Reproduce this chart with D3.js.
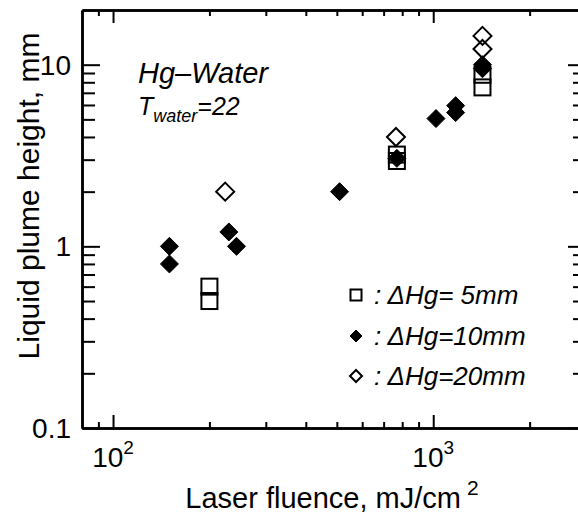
<!DOCTYPE html>
<html>
<head>
<meta charset="utf-8">
<script src="https://cdn.jsdelivr.net/npm/d3@7"></script>
<style>
  body { margin: 0; background: #fff; }
  text { font-family: "Liberation Sans", Arial, sans-serif; fill: #000; }
  .axis path, .axis line { stroke: #000; }
</style>
</head>
<body>
<div id="chart"></div>
<script>
// data (fluence mJ/cm2, plume height mm)
var hg5X = [200, 200, 770, 770, 1425, 1425];
var hg5Y = [0.6, 0.5, 3.2, 2.95, 8.8, 7.5];
var hg10X = [150, 150, 230, 243, 510, 770, 1020, 1175, 1175, 1425, 1425];
var hg10Y = [1.0, 0.8, 1.2, 1.0, 2.0, 3.05, 5.05, 5.95, 5.45, 10.0, 9.5];
var hg20X = [224, 765, 1425, 1425];
var hg20Y = [2.0, 4.0, 14.4, 12.2];

var xMajor = [100, 1000];
var xMinor = [90, 200, 300, 400, 500, 600, 700, 800, 900, 2000];
var yMajor = [0.1, 1, 10];
var yMinor = [0.2, 0.3, 0.4, 0.5, 0.6, 0.7, 0.8, 0.9, 2, 3, 4, 5, 6, 7, 8, 9];
var xLabels = [{ v: 100, exp: "2" }, { v: 1000, exp: "3" }];
var yLabels = ["0.1", "1", "10"];

var legendRows = [
    { type: "square", label: ": \u0394Hg= 5mm" },
    { type: "filled", label: ": \u0394Hg=10mm" },
    { type: "open", label: ": \u0394Hg=20mm" },
];

var width = 578,
    height = 516,
    plot = { left: 82, right: 586, top: 10, bottom: 428 };

var svg = d3
    .select("#chart")
    .append("svg")
    .attr("width", width)
    .attr("height", height);

var x = d3.scaleLog().domain([80, 3000]).range([plot.left, plot.right]);
var y = d3.scaleLog().domain([0.1, 20]).range([plot.bottom, plot.top]);

function drawAxis(axisFn, scale, values, size, transform) {
    var g = svg
        .append("g")
        .attr("class", "axis")
        .attr("transform", transform)
        .call(axisFn(scale).tickValues(values).tickSize(size).tickSizeOuter(0).tickFormat(""));
    g.selectAll("line").attr("stroke-width", 2);
    g.select(".domain").attr("stroke-width", 2.5);
    return g;
}

// x axes (bottom + top), ticks pointing inward
drawAxis(d3.axisTop, x, xMinor, 6, "translate(0," + plot.bottom + ")");
drawAxis(d3.axisTop, x, xMajor, 13, "translate(0," + plot.bottom + ")");
drawAxis(d3.axisBottom, x, xMinor, 6, "translate(0," + plot.top + ")");
drawAxis(d3.axisBottom, x, xMajor, 13, "translate(0," + plot.top + ")");

// y axes (left + right)
drawAxis(d3.axisRight, y, yMinor, 13, "translate(" + plot.left + ",0)");
drawAxis(d3.axisRight, y, yMajor, 18, "translate(" + plot.left + ",0)");
drawAxis(d3.axisLeft, y, yMinor, 13, "translate(" + plot.right + ",0)");
drawAxis(d3.axisLeft, y, yMajor, 18, "translate(" + plot.right + ",0)");

// tick labels
svg.selectAll(".ylab")
    .data(yMajor)
    .enter()
    .append("text")
    .attr("x", plot.left - 11)
    .attr("y", function (d) { return y(d) + 10; })
    .attr("text-anchor", "end")
    .style("font-size", "28px")
    .text(function (d, i) { return yLabels[i]; });

var xl = svg.selectAll(".xlab")
    .data(xLabels)
    .enter()
    .append("text")
    .attr("x", function (d) { return x(d.v); })
    .attr("y", 467)
    .attr("text-anchor", "middle")
    .style("font-size", "28px");
xl.append("tspan").text("10");
xl.append("tspan").attr("dy", -13).style("font-size", "19px").text(function (d) { return d.exp; });

// axis titles
var xt = svg.append("text")
    .attr("x", 332)
    .attr("y", 508)
    .attr("text-anchor", "middle")
    .style("font-size", "29px");
xt.append("tspan").text("Laser fluence, mJ/cm");
xt.append("tspan").attr("dx", 6).attr("dy", -13).style("font-size", "21px").text("2");

svg.append("text")
    .attr("transform", "translate(39,196) rotate(-90)")
    .attr("text-anchor", "middle")
    .style("font-size", "30px")
    .text("Liquid plume height, mm");

// annotation
svg.append("text")
    .attr("x", 138)
    .attr("y", 83)
    .style("font-size", "29px")
    .style("font-style", "italic")
    .text("Hg\u2013Water");

var tw = svg.append("text")
    .attr("x", 138)
    .attr("y", 115)
    .style("font-size", "25px")
    .style("font-style", "italic");
tw.append("tspan").text("T");
tw.append("tspan").attr("dy", 7).style("font-size", "18px").text("water");
tw.append("tspan").attr("dy", -7).text("=22");

// markers
function drawMarker(sel, type, s) {
    if (type === "square") {
        sel.append("rect")
            .attr("x", -s / 2).attr("y", -s / 2)
            .attr("width", s).attr("height", s)
            .attr("fill", "none").attr("stroke", "#000").attr("stroke-width", 2);
    } else {
        var h = s / 2;
        sel.append("path")
            .attr("d", "M0," + (-h) + "L" + h + ",0L0," + h + "L" + (-h) + ",0Z")
            .attr("fill", type === "filled" ? "#000" : "none")
            .attr("stroke", "#000")
            .attr("stroke-width", type === "filled" ? 1 : 2);
    }
}

function drawSeries(xs, ys, type, s) {
    svg.append("g")
        .selectAll("g")
        .data(xs)
        .enter()
        .append("g")
        .attr("transform", function (d, i) { return "translate(" + x(d) + "," + y(ys[i]) + ")"; })
        .each(function () { drawMarker(d3.select(this), type, s); });
}

drawSeries(hg5X, hg5Y, "square", 16);
drawSeries(hg10X, hg10Y, "filled", 18);
drawSeries(hg20X, hg20Y, "open", 18);

// legend
var legend = svg.append("g");
legendRows.forEach(function (r, i) {
    var yy = [295, 336, 376][i];
    var g = legend.append("g").attr("transform", "translate(356," + yy + ")");
    drawMarker(g, r.type, r.type === "square" ? 11 : 12);
    legend.append("text")
        .attr("x", 374)
        .attr("y", yy + 9)
        .style("font-size", "26px")
        .style("font-style", "italic")
        .text(r.label);
});
</script>
</body>
</html>
